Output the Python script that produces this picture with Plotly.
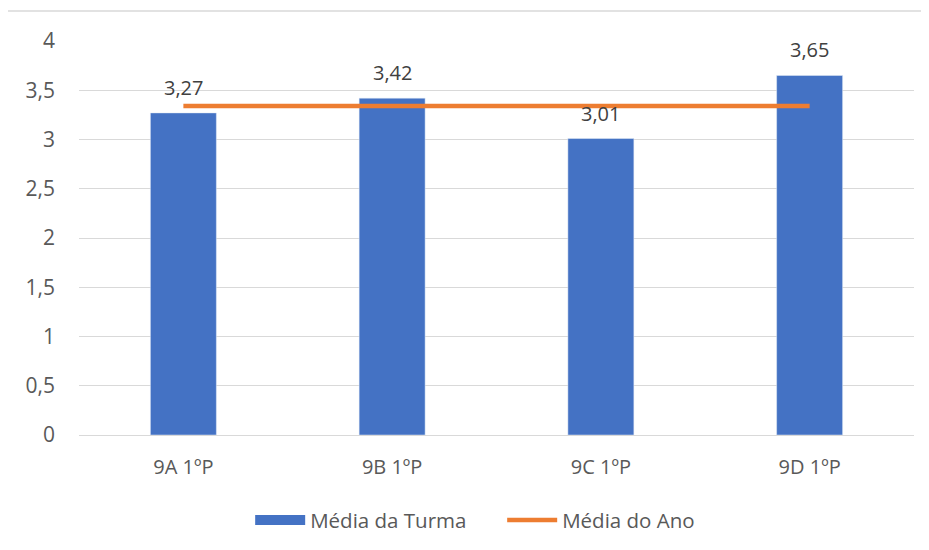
import plotly.graph_objects as go

classes = ["9A 1ºP", "9B 1ºP", "9C 1ºP", "9D 1ºP"]
class_mean = [3.27, 3.42, 3.01, 3.65]
year_mean = [3.34, 3.34, 3.34, 3.34]
bar_labels = ["3,27", "3,42", "3,01", "3,65"]

font_family = "'Open Sans', Lato, sans-serif"
blue = "#4472C4"
orange = "#ED7D31"

fig = go.Figure()
fig.add_trace(go.Bar(
    x=classes, y=class_mean, name="Média da Turma",
    marker_color=blue, width=0.316, showlegend=False,
))
# legend entry for bars drawn as a wide block, like the original
fig.add_trace(go.Scatter(
    x=[None], y=[None], name="Média da Turma", mode="lines",
    line=dict(color=blue, width=14),
))
fig.add_trace(go.Scatter(
    x=classes, y=year_mean, name="Média do Ano", mode="lines",
    line=dict(color=orange, width=4.5),
))

for cls, val, lab in zip(classes, class_mean, bar_labels):
    fig.add_annotation(x=cls, y=val, text=lab, showarrow=False,
                       yanchor="bottom", yshift=10,
                       font=dict(size=20, color="#404040", family=font_family))

# the page body has an 8px margin, so margins are shifted by 8px
fig.update_layout(
    width=929, height=550,
    margin=dict(l=71, r=23, t=33, b=123),
    plot_bgcolor="white", paper_bgcolor="white",
    separators=", ",
    font=dict(family=font_family, size=18, color="#595959"),
    showlegend=True,
    legend=dict(orientation="h", x=0.205, xanchor="left", y=-0.216, yanchor="middle",
                font=dict(size=20.5, color="#595959"), itemwidth=50,
                entrywidth=187, traceorder="normal"),
    shapes=[dict(type="rect", xref="paper", yref="paper",
                 x0=-0.0935, x1=1.05, y0=-0.35, y1=1.076,
                 line=dict(color="#D9D9D9", width=1.5), layer="below")],
)
fig.update_yaxes(range=[0, 4], dtick=0.5, showgrid=True, gridcolor="#D9D9D9", gridwidth=1,
                 zeroline=True, zerolinecolor="#D9D9D9", zerolinewidth=1,
                 showline=False, ticks="", ticklabelstandoff=23,
                 tickfont=dict(size=21))
fig.update_xaxes(showgrid=False, showline=False, ticks="", ticklabelstandoff=18,
                 tickfont=dict(size=20))

fig.write_html("out.html")
